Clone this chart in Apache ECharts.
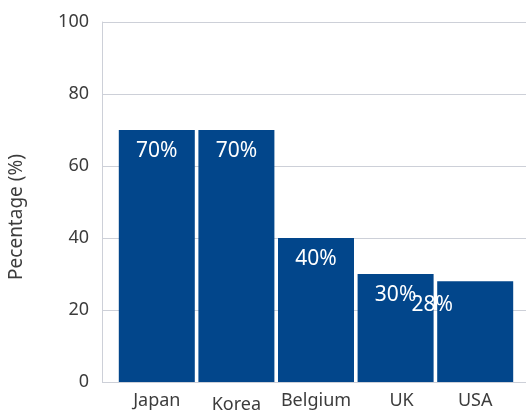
<!DOCTYPE html>
<html>
<head>
<meta charset="utf-8">
<script src="https://cdn.jsdelivr.net/npm/echarts@6/dist/echarts.min.js"></script>
<style>html,body{margin:0;padding:0;background:#fff}#c{width:526px;height:410px}</style>
</head>
<body>
<div id="c"></div>
<script>
const categories = ['Japan', 'Korea', 'Belgium', 'UK', 'USA'];
const values = [70, 70, 40, 30, 28];
const yTicks = [0, 20, 40, 60, 80, 100];

const font = 'Noto Sans';
const labelColor = '#3c3c3c';
const lineColor = '#cdd0d8';
const barColor = '#02468b';

const chart = echarts.init(document.getElementById('c'), null, {renderer: 'canvas'});
chart.setOption({
  animation: false,
  backgroundColor: '#fff',
  grid: [
    {left: 102, right: 0, top: 22, bottom: 28, containLabel: false, outerBoundsMode: 'none'},
    {left: 117, right: 11, top: 22, bottom: 28, containLabel: false, outerBoundsMode: 'none'}
  ],
  xAxis: [
    {gridIndex: 0, type: 'category', data: categories, show: false},
    {
      gridIndex: 1, type: 'category',
      data: categories.map(function (c) {
        if (c === 'Korea') return {value: c, textStyle: {padding: [4, 0, 0, 0]}};
        if (c === 'UK') return {value: c, textStyle: {padding: [0, 0, 0, 12]}};
        return c;
      }),
      axisLine: {show: false}, axisTick: {show: false},
      axisLabel: {interval: 0, hideOverlap: false, fontFamily: font, fontSize: 18, color: labelColor, margin: 10}
    }
  ],
  yAxis: [
    {
      gridIndex: 0, type: 'value', min: yTicks[0], max: yTicks[yTicks.length - 1], interval: 20,
      name: 'Pecentage (%)', nameLocation: 'middle', nameGap: 76,
      nameTextStyle: {fontFamily: font, fontSize: 19, color: labelColor, padding: [0, 30, 0, 0]},
      axisLine: {show: true, lineStyle: {color: lineColor, width: 1}},
      axisTick: {show: false},
      axisLabel: {fontFamily: font, fontSize: 18, color: labelColor, margin: 13},
      splitLine: {show: true, lineStyle: {color: lineColor, width: 1}}
    },
    {gridIndex: 1, type: 'value', min: 0, max: 100, show: false}
  ],
  series: [{
    type: 'bar', xAxisIndex: 1, yAxisIndex: 1,
    data: values.map(function (v, i) {
      const item = {value: v};
      if (categories[i] === 'USA') item.label = {offset: [-43, 2]};
      return item;
    }),
    barWidth: 76,
    itemStyle: {color: barColor},
    label: {
      show: true, position: 'insideTop', distance: 11,
      formatter: '{c}%', fontFamily: font, fontSize: 21, color: '#fff'
    }
  }]
});
</script>
</body>
</html>
